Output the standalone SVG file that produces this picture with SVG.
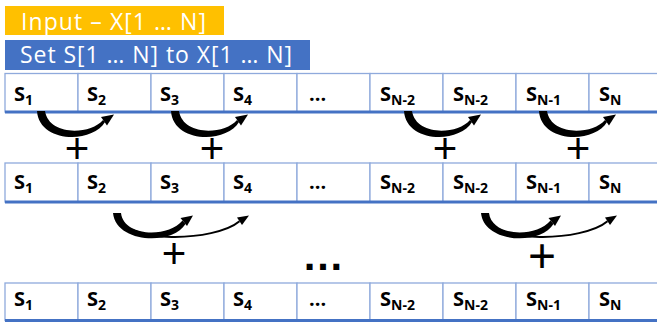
<svg xmlns="http://www.w3.org/2000/svg" xmlns:xlink="http://www.w3.org/1999/xlink" width="657" height="323" viewBox="0 0 657 323">
<style>
.cell{fill:#fff;stroke:#8faadc;stroke-width:1.3}
.bottom{stroke:#4472c4;stroke-width:3}
.lbl{font-family:"Open Sans","Liberation Sans",sans-serif;font-weight:bold;font-size:20px;fill:#000}
.sub{font-size:14px}
.hdr{font-family:"Open Sans","Liberation Sans",sans-serif;font-size:23px;fill:#fff}
.plus{font-family:"Liberation Sans",Arial,sans-serif;font-size:42px;fill:#000;text-anchor:middle}
.ink{fill:#000}
</style>
<defs>
<g id="arcA">
<path class="ink" d="M37,111 C39,143 92,144 105,122.1 L103,119.9 C90,135 49,136 45,111 Z"/>
<polygon class="ink" points="114,114.5 107,125.5 101,117"/>
</g>
<g id="arcB">
<path d="M118,216 C124,244 215,242 239.5,221.3" fill="none" stroke="#000" stroke-width="2"/>
<polygon class="ink" points="249,215.5 242,225 237,217.5"/>
<path class="ink" d="M113,213 C116,243 172,246 185.5,224 L182.5,220.5 C168,238 124,237 121,213 Z"/>
<polygon class="ink" points="193,215.5 187,226 180.5,218"/>
</g>
</defs>

<g id="input">
<rect x="5" y="6" width="219" height="29" fill="#ffc000"/>
<text class="hdr" x="21" y="29.5" textLength="185" lengthAdjust="spacing">Input – X[1 … N]</text>
</g>
<g id="set">
<rect x="5" y="40" width="305" height="30" fill="#4472c4"/>
<text class="hdr" x="20" y="62.5" textLength="272" lengthAdjust="spacing">Set S[1 … N] to X[1 … N]</text>
</g>

<g id="row1">
<g id="r1c1"><rect class="cell" x="5" y="73.5" width="73" height="38.5"/><text class="lbl" x="14" y="101">S<tspan class="sub" dy="4">1</tspan></text></g>
<g id="r1c2"><rect class="cell" x="78" y="73.5" width="73" height="38.5"/><text class="lbl" x="87" y="101">S<tspan class="sub" dy="4">2</tspan></text></g>
<g id="r1c3"><rect class="cell" x="151" y="73.5" width="73" height="38.5"/><text class="lbl" x="160" y="101">S<tspan class="sub" dy="4">3</tspan></text></g>
<g id="r1c4"><rect class="cell" x="224" y="73.5" width="73" height="38.5"/><text class="lbl" x="233" y="101">S<tspan class="sub" dy="4">4</tspan></text></g>
<g id="r1c5"><rect class="cell" x="297" y="73.5" width="73" height="38.5"/><text class="lbl" x="309" y="101">...</text></g>
<g id="r1c6"><rect class="cell" x="370" y="73.5" width="73" height="38.5"/><text class="lbl" x="380" y="101">S<tspan class="sub" dy="4">N-2</tspan></text></g>
<g id="r1c7"><rect class="cell" x="443" y="73.5" width="73" height="38.5"/><text class="lbl" x="453" y="101">S<tspan class="sub" dy="4">N-2</tspan></text></g>
<g id="r1c8"><rect class="cell" x="516" y="73.5" width="73" height="38.5"/><text class="lbl" x="526" y="101">S<tspan class="sub" dy="4">N-1</tspan></text></g>
<g id="r1c9"><rect class="cell" x="589" y="73.5" width="73" height="38.5"/><text class="lbl" x="599" y="101">S<tspan class="sub" dy="4">N</tspan></text></g>
<line class="bottom" x1="5" y1="112" x2="657" y2="112"/>
</g>

<g id="row2">
<g id="r2c1"><rect class="cell" x="5" y="163" width="73" height="39"/><text class="lbl" x="14" y="189">S<tspan class="sub" dy="4">1</tspan></text></g>
<g id="r2c2"><rect class="cell" x="78" y="163" width="73" height="39"/><text class="lbl" x="87" y="189">S<tspan class="sub" dy="4">2</tspan></text></g>
<g id="r2c3"><rect class="cell" x="151" y="163" width="73" height="39"/><text class="lbl" x="160" y="189">S<tspan class="sub" dy="4">3</tspan></text></g>
<g id="r2c4"><rect class="cell" x="224" y="163" width="73" height="39"/><text class="lbl" x="233" y="189">S<tspan class="sub" dy="4">4</tspan></text></g>
<g id="r2c5"><rect class="cell" x="297" y="163" width="73" height="39"/><text class="lbl" x="309" y="189">...</text></g>
<g id="r2c6"><rect class="cell" x="370" y="163" width="73" height="39"/><text class="lbl" x="380" y="189">S<tspan class="sub" dy="4">N-2</tspan></text></g>
<g id="r2c7"><rect class="cell" x="443" y="163" width="73" height="39"/><text class="lbl" x="453" y="189">S<tspan class="sub" dy="4">N-2</tspan></text></g>
<g id="r2c8"><rect class="cell" x="516" y="163" width="73" height="39"/><text class="lbl" x="526" y="189">S<tspan class="sub" dy="4">N-1</tspan></text></g>
<g id="r2c9"><rect class="cell" x="589" y="163" width="73" height="39"/><text class="lbl" x="599" y="189">S<tspan class="sub" dy="4">N</tspan></text></g>
<line class="bottom" x1="5" y1="202" x2="657" y2="202"/>
</g>

<g id="row3">
<g id="r3c1"><rect class="cell" x="5" y="283" width="73" height="37.5"/><text class="lbl" x="14" y="306">S<tspan class="sub" dy="4">1</tspan></text></g>
<g id="r3c2"><rect class="cell" x="78" y="283" width="73" height="37.5"/><text class="lbl" x="87" y="306">S<tspan class="sub" dy="4">2</tspan></text></g>
<g id="r3c3"><rect class="cell" x="151" y="283" width="73" height="37.5"/><text class="lbl" x="160" y="306">S<tspan class="sub" dy="4">3</tspan></text></g>
<g id="r3c4"><rect class="cell" x="224" y="283" width="73" height="37.5"/><text class="lbl" x="233" y="306">S<tspan class="sub" dy="4">4</tspan></text></g>
<g id="r3c5"><rect class="cell" x="297" y="283" width="73" height="37.5"/><text class="lbl" x="309" y="306">...</text></g>
<g id="r3c6"><rect class="cell" x="370" y="283" width="73" height="37.5"/><text class="lbl" x="380" y="306">S<tspan class="sub" dy="4">N-2</tspan></text></g>
<g id="r3c7"><rect class="cell" x="443" y="283" width="73" height="37.5"/><text class="lbl" x="453" y="306">S<tspan class="sub" dy="4">N-2</tspan></text></g>
<g id="r3c8"><rect class="cell" x="516" y="283" width="73" height="37.5"/><text class="lbl" x="526" y="306">S<tspan class="sub" dy="4">N-1</tspan></text></g>
<g id="r3c9"><rect class="cell" x="589" y="283" width="73" height="37.5"/><text class="lbl" x="599" y="306">S<tspan class="sub" dy="4">N</tspan></text></g>
<line class="bottom" x1="5" y1="320.5" x2="657" y2="320.5"/>
</g>

<g id="connectors">
<use xlink:href="#arcA"/>
<use xlink:href="#arcA" transform="translate(134,0)"/>
<use xlink:href="#arcA" transform="translate(367,0)"/>
<use xlink:href="#arcA" transform="translate(502,0)"/>
<use xlink:href="#arcB"/>
<use xlink:href="#arcB" transform="translate(368,0)"/>
<text class="plus" x="77" y="163">+</text>
<text class="plus" x="212" y="163">+</text>
<text class="plus" x="445" y="163">+</text>
<text class="plus" x="578" y="163">+</text>
<text class="plus" x="174" y="268">+</text>
<text class="plus" x="542" y="272" style="font-size:48px">+</text>
</g>
<text x="323" y="270" style="font-family:'Liberation Sans',sans-serif;font-weight:bold;font-size:42px;text-anchor:middle" fill="#000">…</text>
</svg>
